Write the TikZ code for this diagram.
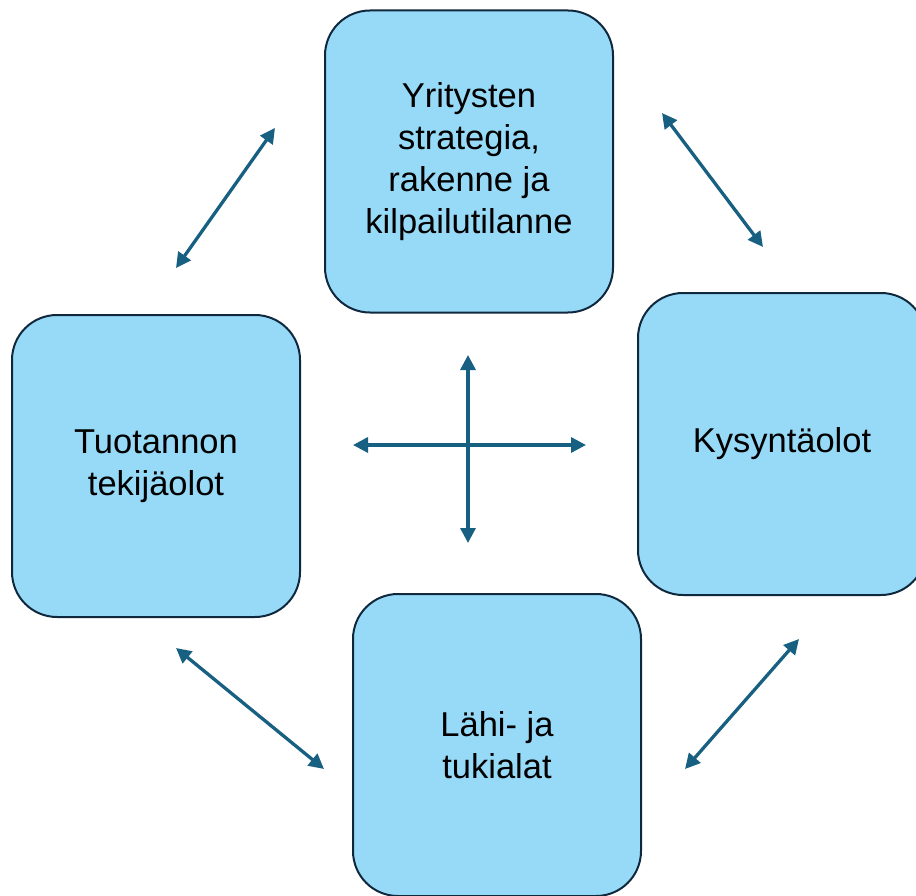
\documentclass[tikz,border=0pt]{standalone}
\usepackage{fontspec}
\setmainfont{Liberation Sans}
\usepackage{xcolor}
\usetikzlibrary{arrows.meta, positioning}

\definecolor{boxfill}{RGB}{151,218,247}
\definecolor{boxline}{RGB}{16,40,62}
\definecolor{linkblue}{RGB}{24,96,130}

\begin{document}
\begin{tikzpicture}[x=1pt, y=-1pt,
    factor/.style={draw=boxline, line width=2pt, fill=boxfill, rounded corners=45pt, minimum width=288pt, minimum height=302pt, align=center, font=\fontsize{34.5}{42}\selectfont},
    link/.style={{Triangle[length=15pt,width=15pt]}-{Triangle[length=15pt,width=15pt]}, line width=3.3pt, draw=linkblue}]
    \clip (0,0) rectangle (916,896);

    % Boxes
    \node[factor] (Strat) at (469,161.5) {Yritysten\\strategia,\\rakenne ja\\kilpailutilanne};
    \node[factor] (Tuot) at (156,466) {Tuotannon\\tekijäolot};
    \node[factor] (Kys) at (782,444) {Kysyntäolot};
    \node[factor] (Lahi) at (497,745) {Lähi- ja\\tukialat};

    % Arrow ends
    \coordinate (tlA) at (176,268);
    \coordinate (tlB) at (275,128);
    \coordinate (trA) at (662,113);
    \coordinate (trB) at (763,247);
    \coordinate (brA) at (799,639);
    \coordinate (brB) at (685,769);
    \coordinate (blA) at (176,648);
    \coordinate (blB) at (324,769);
    \coordinate (crN) at (468,355);
    \coordinate (crS) at (468,543);
    \coordinate (crW) at (353,445);
    \coordinate (crE) at (586,445);

    % Links
    \draw[link] (tlA) -- (tlB);
    \draw[link] (trA) -- (trB);
    \draw[link] (brA) -- (brB);
    \draw[link] (blA) -- (blB);
    \draw[link] (crN) -- (crS);
    \draw[link] (crW) -- (crE);
\end{tikzpicture}
\end{document}
